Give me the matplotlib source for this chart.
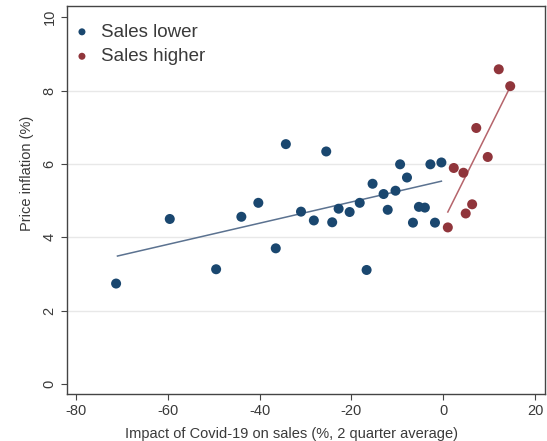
import matplotlib.pyplot as plt

plt.rcParams['font.family'] = ['Liberation Sans', 'DejaVu Sans']
plt.rcParams['axes.unicode_minus'] = False

# Sales lower (impact on sales < 0)
lower_x = [-71.3, -59.6, -49.5, -44.0, -40.3, -36.5, -34.3, -31.0, -28.2, -25.5,
           -24.2, -22.8, -20.4, -18.2, -16.7, -15.4, -13.0, -12.1, -10.4, -9.4,
           -7.9, -6.6, -5.3, -4.0, -2.8, -1.8, -0.4]
lower_y = [2.74, 4.50, 3.13, 4.56, 4.94, 3.70, 6.54, 4.70, 4.46, 6.34,
           4.41, 4.78, 4.69, 4.94, 3.11, 5.46, 5.18, 4.75, 5.27, 5.99,
           5.63, 4.40, 4.83, 4.81, 5.99, 4.40, 6.04]

# Sales higher (impact on sales > 0)
higher_x = [1.0, 2.3, 4.4, 4.9, 6.3, 7.2, 9.7, 12.1, 14.6]
higher_y = [4.27, 5.89, 5.76, 4.65, 4.90, 6.98, 6.19, 8.58, 8.12]

# fitted lines
fit_lower_x = [-71.0, -0.4]
fit_lower_y = [3.49, 5.53]
fit_higher_x = [1.0, 14.6]
fit_higher_y = [4.69, 8.10]

x_ticks = [-80, -60, -40, -20, 0, 20]
y_ticks = [0, 2, 4, 6, 8, 10]

navy = '#1a476f'
maroon = '#90353b'
frame = '#444444'
txt = '#3a3a3a'

fig = plt.figure(figsize=(5.47, 4.41), dpi=100)
ax = fig.add_axes([0.1225, 0.1066, 0.874, 0.8794])

for gy in y_ticks[1:-1]:
    ax.axhline(gy, color='#e8e8e8', lw=1.0, zorder=0)

ax.plot(fit_lower_x, fit_lower_y, color='#5b7290', lw=1.1, zorder=2)
ax.plot(fit_higher_x, fit_higher_y, color='#b5646b', lw=1.1, zorder=2)

ax.scatter(lower_x, lower_y, s=52, color=navy, edgecolors='none', zorder=3, label='Sales lower')
ax.scatter(higher_x, higher_y, s=52, color=maroon, edgecolors='none', zorder=3, label='Sales higher')

ax.set_xlim(-82, 22.2)
ax.set_ylim(-0.27, 10.3)
ax.set_xticks(x_ticks)
ax.set_yticks(y_ticks)
ax.tick_params(axis='both', direction='out', length=4, width=0.8, color=frame,
               labelcolor=txt, labelsize=10.5)
plt.setp(ax.get_yticklabels(), rotation=90, va='center')
for s in ax.spines.values():
    s.set_color(frame)
    s.set_linewidth(1.0)

ax.set_xlabel('Impact of Covid-19 on sales (%, 2 quarter average)', fontsize=10.5, color=txt)
ax.xaxis.set_label_coords(0.47, -0.085)
ax.set_ylabel('Price inflation (%)', fontsize=10.5, color=txt)
ax.yaxis.set_label_coords(-0.068, 0.57)

leg = ax.legend(loc='upper left', bbox_to_anchor=(0.0195, 0.955), frameon=False,
                fontsize=13.5, handlelength=0.6, handletextpad=0.7, markerscale=0.7,
                borderaxespad=0, borderpad=0, labelspacing=0.39)
for t in leg.get_texts():
    t.set_color(txt)

fig.savefig('out.png', dpi=100)
